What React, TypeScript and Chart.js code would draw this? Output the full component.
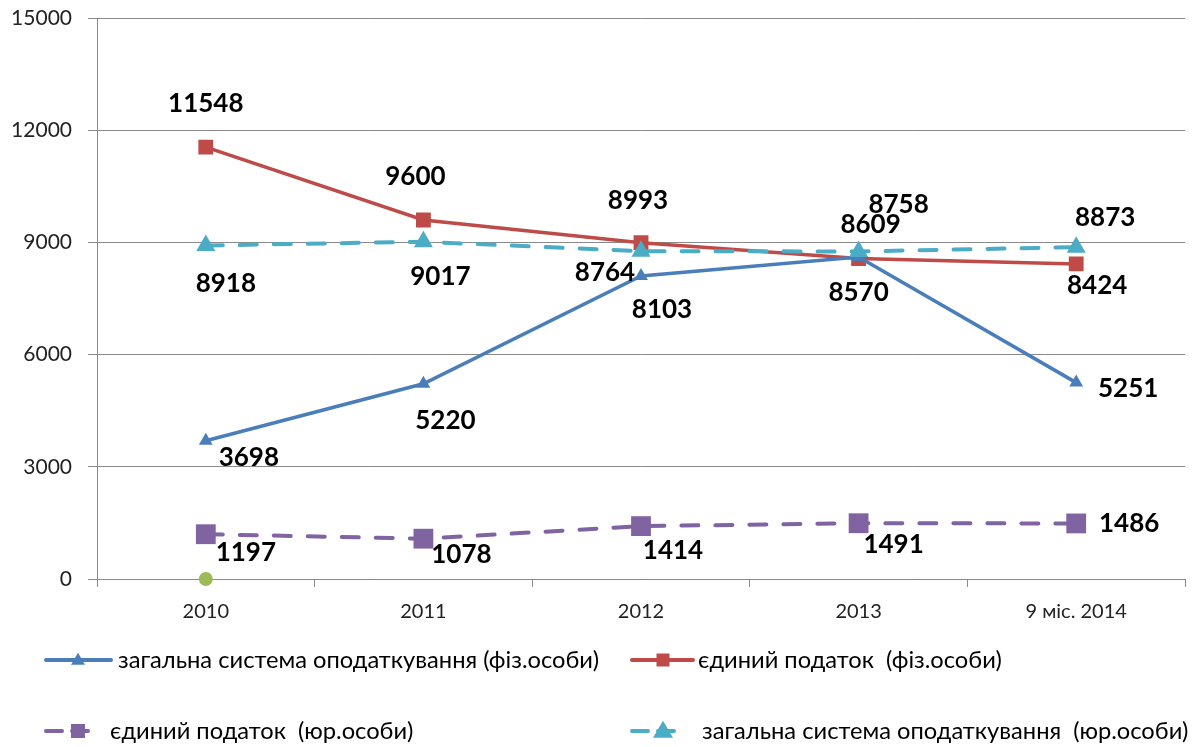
import React, { useEffect, useRef } from "react";
import { Chart, registerables } from "chart.js";

Chart.register(...registerables);

// ---- data ----
const categories = ["2010", "2011", "2012", "2013", "9 міс. 2014"];
const generalIndividuals = [3698, 5220, 8103, 8609, 5251];
const singleTaxIndividuals = [11548, 9600, 8993, 8570, 8424];
const singleTaxLegal = [1197, 1078, 1414, 1491, 1486];
const generalLegal = [8918, 9017, 8764, 8758, 8873];
const markerAtZero = [0, null, null, null, null];
const seriesNames = [
  "загальна система оподаткування (фіз.особи)",
  "єдиний податок  (фіз.особи)",
  "єдиний податок  (юр.особи)",
  "загальна система оподаткування  (юр.особи)",
];
const yMin = 0;
const yMax = 15000;
const yStep = 3000;

// ---- styling ----
const BLUE = "#4A7EBB";
const RED = "#BE4B48";
const PURPLE = "#8064A2";
const CYAN = "#4BACC6";
const GREEN = "#9BBB59";
const GRID = "#8a8a8a";
const FONT = "Lato, 'Open Sans', sans-serif";

// label offsets (px) relative to each point, per dataset index
const labelOffsets: number[][][] = [
  [[43, 17], [22, 37], [21, 34], [12, -32], [52, 6]],
  [[0, -43], [-8, -43], [-3, -42], [0, 34], [21, 22]],
  [[40, 18], [38, 16], [32, 24], [35, 21], [53, 0]],
  [[20, 38], [17, 35], [-36, 21], [40, -47], [29, -30]],
];

const legendLayout = [
  { ds: 0, x0: 44, x1: 113, mx: 78, y: 660, tx: 118, dashed: false, shape: "tri", r: 7 },
  { ds: 1, x0: 630, x1: 695, mx: 663, y: 660, tx: 698, dashed: false, shape: "rect", r: 6.5 },
  { ds: 2, x0: 44, x1: 97, mx: 78, y: 731, tx: 110, dashed: true, shape: "rect", r: 7 },
  { ds: 3, x0: 630, x1: 682, mx: 663, y: 731, tx: 702, dashed: true, shape: "tri", r: 10 },
];

function drawMarker(ctx: CanvasRenderingContext2D, shape: string, x: number, y: number, r: number, color: string) {
  ctx.save();
  ctx.fillStyle = color;
  ctx.setLineDash([]);
  ctx.beginPath();
  if (shape === "rect") {
    ctx.rect(x - r, y - r, 2 * r, 2 * r);
  } else {
    const h = r * 1.7;
    ctx.moveTo(x, y - h * 0.6);
    ctx.lineTo(x + r, y + h * 0.4);
    ctx.lineTo(x - r, y + h * 0.4);
    ctx.closePath();
  }
  ctx.fill();
  ctx.restore();
}

const labelsPlugin = {
  id: "valueLabels",
  afterDatasetsDraw(chart: any) {
    const ctx = chart.ctx as CanvasRenderingContext2D;
    ctx.save();
    ctx.font = `bold 26px ${FONT}`;
    ctx.fillStyle = "#000";
    ctx.textAlign = "center";
    ctx.textBaseline = "middle";
    for (let d = 0; d < 4; d++) {
      const meta = chart.getDatasetMeta(d);
      const data = chart.data.datasets[d].data;
      meta.data.forEach((el: any, i: number) => {
        const off = labelOffsets[d][i];
        ctx.fillText(String(data[i]), el.x + off[0], el.y + off[1]);
      });
    }
    ctx.restore();
  },
};

const legendPlugin = {
  id: "customLegend",
  afterDraw(chart: any) {
    const ctx = chart.ctx as CanvasRenderingContext2D;
    ctx.save();
    legendLayout.forEach((it) => {
      const ds = chart.data.datasets[it.ds];
      ctx.strokeStyle = ds.borderColor;
      ctx.lineWidth = 4;
      ctx.lineCap = "round";
      ctx.setLineDash(it.dashed ? [16, 10] : []);
      ctx.beginPath();
      ctx.moveTo(it.x0 + 2, it.y);
      ctx.lineTo(it.x1 - 2, it.y);
      ctx.stroke();
      drawMarker(ctx, it.shape, it.mx, it.y, it.r, ds.borderColor);
      ctx.setLineDash([]);
      ctx.font = `23.7px ${FONT}`;
      ctx.fillStyle = "#000";
      ctx.textAlign = "left";
      ctx.textBaseline = "middle";
      ctx.fillText(seriesNames[it.ds], it.tx, it.y);
    });
    ctx.restore();
  },
};

export default function App() {
  const ref = useRef<HTMLCanvasElement>(null);
  useEffect(() => {
    if (!ref.current) return;
    const chart = new Chart(ref.current, {
      type: "line",
      data: {
        labels: categories,
        datasets: [
          {
            label: seriesNames[0],
            data: generalIndividuals,
            borderColor: BLUE,
            backgroundColor: BLUE,
            borderWidth: 3.5,
            pointStyle: "triangle",
            pointRadius: 8,
            pointBorderWidth: 0,
            tension: 0,
            order: 1,
          },
          {
            label: seriesNames[1],
            data: singleTaxIndividuals,
            borderColor: RED,
            backgroundColor: RED,
            borderWidth: 3.5,
            pointStyle: "rect",
            pointRadius: 10.5,
            pointBorderWidth: 0,
            tension: 0,
            order: 2,
          },
          {
            label: seriesNames[2],
            data: singleTaxLegal,
            borderColor: PURPLE,
            backgroundColor: PURPLE,
            borderWidth: 4,
            borderDash: [17, 17],
            borderCapStyle: "round",
            pointStyle: "rect",
            pointRadius: 14,
            pointBorderWidth: 0,
            tension: 0,
            order: 3,
          },
          {
            label: seriesNames[3],
            data: generalLegal,
            borderColor: CYAN,
            backgroundColor: CYAN,
            borderWidth: 4,
            borderDash: [17, 17],
            borderCapStyle: "round",
            pointStyle: "triangle",
            pointRadius: 11,
            pointBorderWidth: 0,
            tension: 0,
            order: 0,
          },
          {
            label: "",
            data: markerAtZero,
            borderColor: GREEN,
            backgroundColor: GREEN,
            showLine: false,
            pointStyle: "circle",
            pointRadius: 7,
            pointBorderWidth: 0,
            clip: false,
            order: 4,
          },
        ],
      },
      options: {
        responsive: false,
        animation: false,
        layout: { padding: { top: 18, right: 10, bottom: 118, left: 0 } },
        plugins: {
          legend: { display: false },
          tooltip: { enabled: false },
        },
        scales: {
          x: {
            type: "category",
            offset: true,
            grid: {
              offset: true,
              drawOnChartArea: false,
              drawTicks: true,
              tickLength: 8,
              color: GRID,
            },
            border: { color: GRID },
            ticks: {
              font: { family: FONT, size: 20 },
              color: "#222",
              padding: 13,
              maxRotation: 0,
            },
            afterFit: (s: any) => {
              s.height = 50;
            },
          },
          y: {
            min: yMin,
            max: yMax,
            grid: { color: GRID, tickLength: 9, drawTicks: true },
            border: { color: GRID },
            ticks: {
              stepSize: yStep,
              font: { family: FONT, size: 21 },
              color: "#222",
              padding: 16,
              callback: (v: any) => String(v),
            },
            afterFit: (s: any) => {
              s.width = 97;
              s.paddingTop = 0;
              s.paddingBottom = 0;
            },
          },
        },
      },
      plugins: [labelsPlugin, legendPlugin],
    });
    return () => chart.destroy();
  }, []);
  return (
    <div style={{ position: "fixed", left: 0, top: 0, width: 1199, height: 747, background: "#fff" }}>
      <canvas ref={ref} width={1199} height={747} style={{ display: "block" }} />
    </div>
  );
}
